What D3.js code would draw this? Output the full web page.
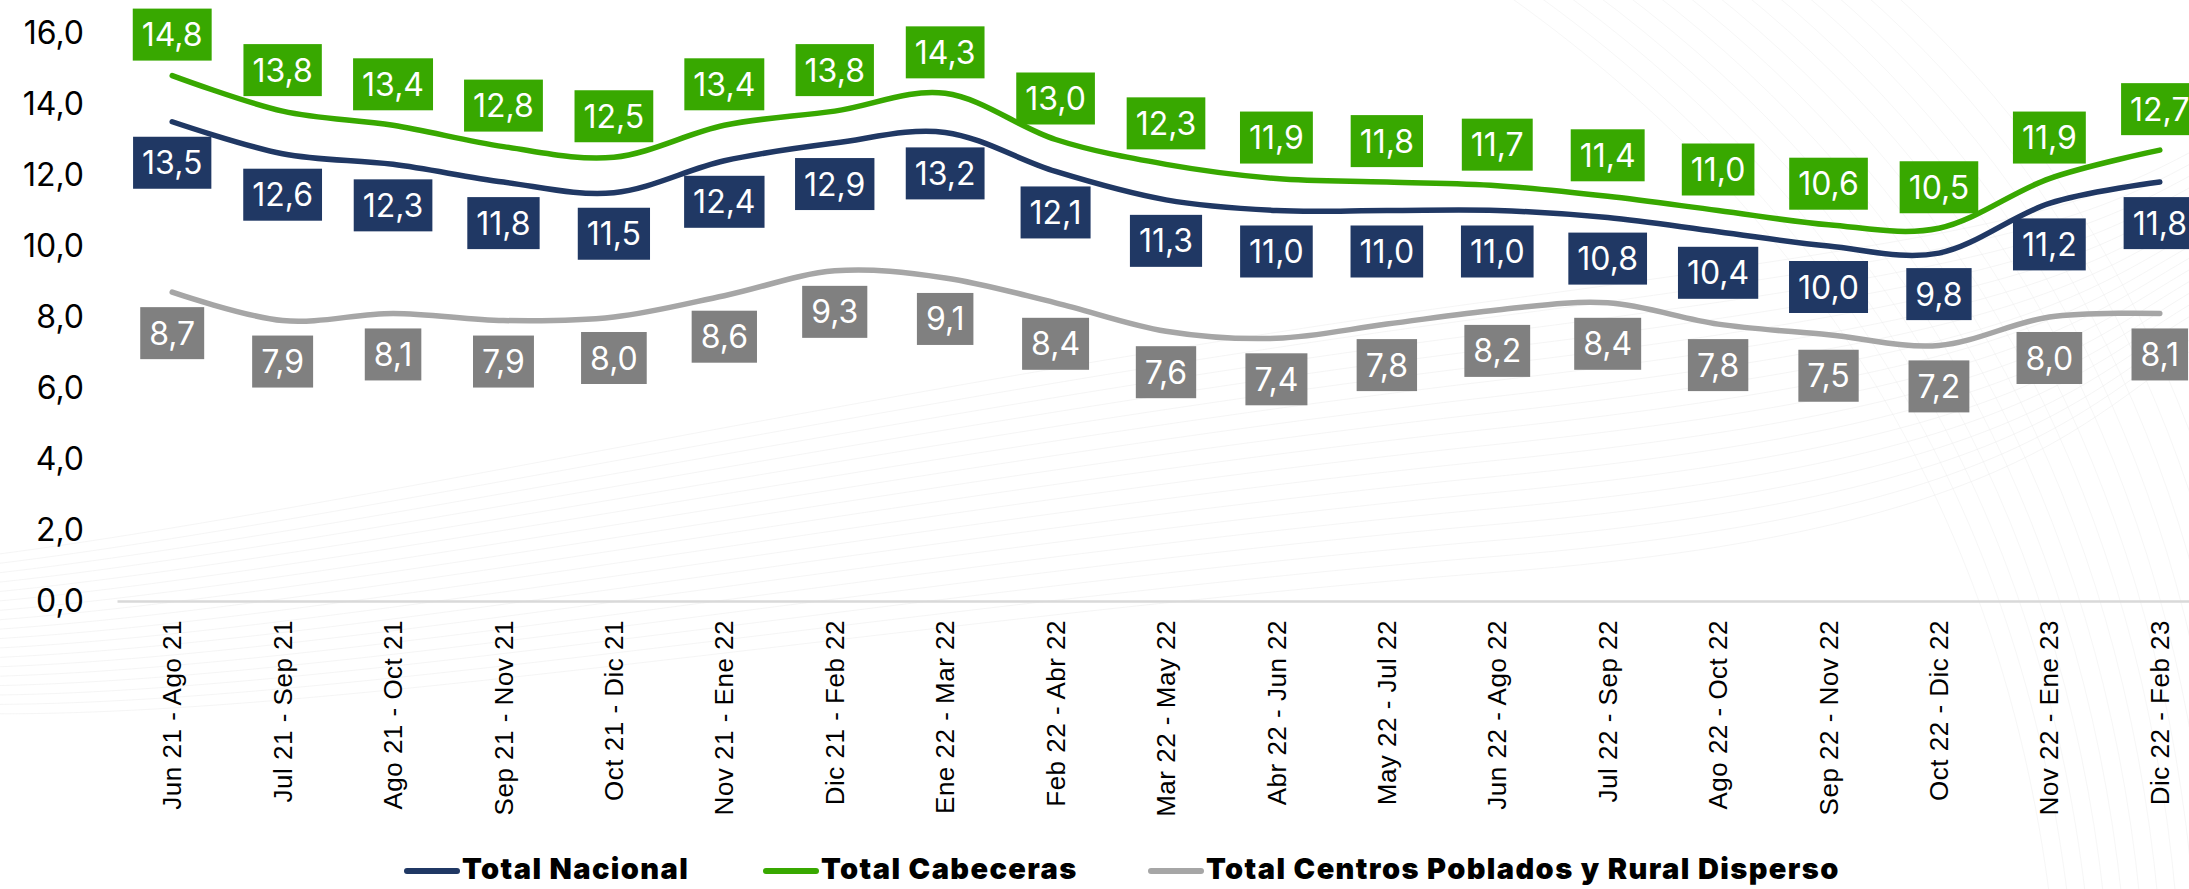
<!DOCTYPE html>
<html>
<head>
<meta charset="utf-8">
<script src="https://cdn.jsdelivr.net/npm/d3@7"></script>
<style>
  html, body { margin: 0; padding: 0; background: #fff; }
  svg { display: block; }
</style>
</head>
<body>
<svg id="chart" width="2189" height="889"></svg>
<script>
const categories = ["Jun 21 - Ago 21","Jul 21 - Sep 21","Ago 21 - Oct 21","Sep 21 - Nov 21","Oct 21 - Dic 21","Nov 21 - Ene 22","Dic 21 - Feb 22","Ene 22 - Mar 22","Feb 22 - Abr 22","Mar 22 - May 22","Abr 22 - Jun 22","May 22 - Jul 22","Jun 22 - Ago 22","Jul 22 - Sep 22","Ago 22 - Oct 22","Sep 22 - Nov 22","Oct 22 - Dic 22","Nov 22 - Ene 23","Dic 22 - Feb 23"];
const totalNacional = [13.5,12.6,12.3,11.8,11.5,12.4,12.9,13.2,12.1,11.3,11.0,11.0,11.0,10.8,10.4,10.0,9.8,11.2,11.8];
const totalCabeceras = [14.8,13.8,13.4,12.8,12.5,13.4,13.8,14.3,13.0,12.3,11.9,11.8,11.7,11.4,11.0,10.6,10.5,11.9,12.7];
const totalRural = [8.7,7.9,8.1,7.9,8.0,8.6,9.3,9.1,8.4,7.6,7.4,7.8,8.2,8.4,7.8,7.5,7.2,8.0,8.1];
const yTicks = [0,2,4,6,8,10,12,14,16];
const seriesNames = ["Total Nacional","Total Cabeceras","Total Centros Poblados y Rural Disperso"];

const series = [
  {name: seriesNames[0], values: totalNacional, line: "#203864", box: "#203864", pos: 1},
  {name: seriesNames[1], values: totalCabeceras, line: "#38A800", box: "#38A800", pos: -1},
  {name: seriesNames[2], values: totalRural, line: "#A6A6A6", box: "#808080", pos: 1}
];

const svg = d3.select("#chart");
const fmt = v => v.toFixed(1).replace(".", ",");

// faint decorative background curves
const bg = svg.append("g").attr("fill", "none").attr("stroke", "#eeeeee").attr("stroke-width", 1);
for (let i = 0; i < 18; i++) {
  bg.append("path").attr("d", `M ${-50} ${560 + i * 9} C 300 ${520 + i * 12}, 900 ${380 + i * 14}, 1500 ${300 + i * 16} S 2100 ${200 + i * 10}, 2250 ${120 + i * 12}`).attr("opacity", 0.6);
}
for (let i = 0; i < 14; i++) {
  bg.append("path").attr("d", `M ${1500 + i * 30} -10 C ${1800 + i * 25} 200, ${2000 + i * 20} 500, ${2050 + i * 18} 900`).attr("opacity", 0.5);
}

const x = d3.scaleBand().domain(categories).range([117, 2215]).paddingInner(0).paddingOuter(0);
const y = d3.scaleLinear().domain([0, 16]).range([601, 33]);
const cx = c => x(c) + x.bandwidth() / 2;

// y axis
const yAxis = svg.append("g").attr("transform", "translate(84,0)")
  .call(d3.axisLeft(y).tickValues(yTicks).tickFormat(fmt).tickSize(0).tickPadding(0));
yAxis.select(".domain").remove();
yAxis.selectAll("text").attr("font-family", "Inter, 'Noto Sans', sans-serif").attr("font-size", 32).attr("fill", "#000");

// x axis
const xAxis = svg.append("g").attr("transform", "translate(0,601)")
  .call(d3.axisBottom(x).tickSize(0).tickSizeOuter(0).tickPadding(0));
xAxis.select(".domain").attr("stroke", "#d9d9d9").attr("stroke-width", 2.5);
xAxis.selectAll("text")
  .attr("font-family", "'Liberation Sans', Arial, sans-serif")
  .attr("font-size", 26)
  .attr("letter-spacing", 0.5)
  .attr("fill", "#000")
  .attr("transform", "rotate(-90)")
  .attr("text-anchor", "end")
  .attr("x", -19)
  .attr("y", 0)
  .attr("dy", "0.35em");

// lines
const line = d3.line().x((d, i) => cx(categories[i])).y(d => y(d)).curve(d3.curveCardinal.tension(0));
series.forEach(s => {
  svg.append("path").datum(s.values)
    .attr("fill", "none").attr("stroke", s.line).attr("stroke-width", 5.5)
    .attr("stroke-linecap", "round").attr("d", line);
});

// labels
series.forEach(s => {
  const g = svg.append("g");
  s.values.forEach((v, i) => {
    const px = cx(categories[i]);
    const py = y(v) + s.pos * 41;
    const lg = g.append("g").attr("transform", `translate(${px},${py})`);
    const rect = lg.append("rect").attr("fill", s.box);
    const t = lg.append("text").text(fmt(v))
      .attr("font-family", "Inter, 'Noto Sans', sans-serif").attr("font-size", 32)
      .attr("fill", "#fff").attr("text-anchor", "middle").attr("dy", "0.36em");
    const w = t.node().getComputedTextLength() + 18;
    rect.attr("x", -w / 2).attr("y", -26).attr("width", w).attr("height", 52);
  });
});

// legend
const legend = svg.append("g");
const legendX = [405, 764, 1149];
series.forEach((s, i) => {
  const lg = legend.append("g").attr("transform", `translate(${legendX[i]},869)`);
  lg.append("line").attr("x1", 2).attr("x2", 52).attr("y1", 2).attr("y2", 2)
    .attr("stroke", s.line).attr("stroke-width", 6).attr("stroke-linecap", "round");
  lg.append("text").text(s.name).attr("x", 57).attr("dy", "0.36em")
    .attr("font-family", "Inter, 'Noto Sans', sans-serif").attr("font-weight", 900)
    .attr("font-size", 29).attr("letter-spacing", 1.4).attr("fill", "#000");
});
</script>
</body>
</html>
